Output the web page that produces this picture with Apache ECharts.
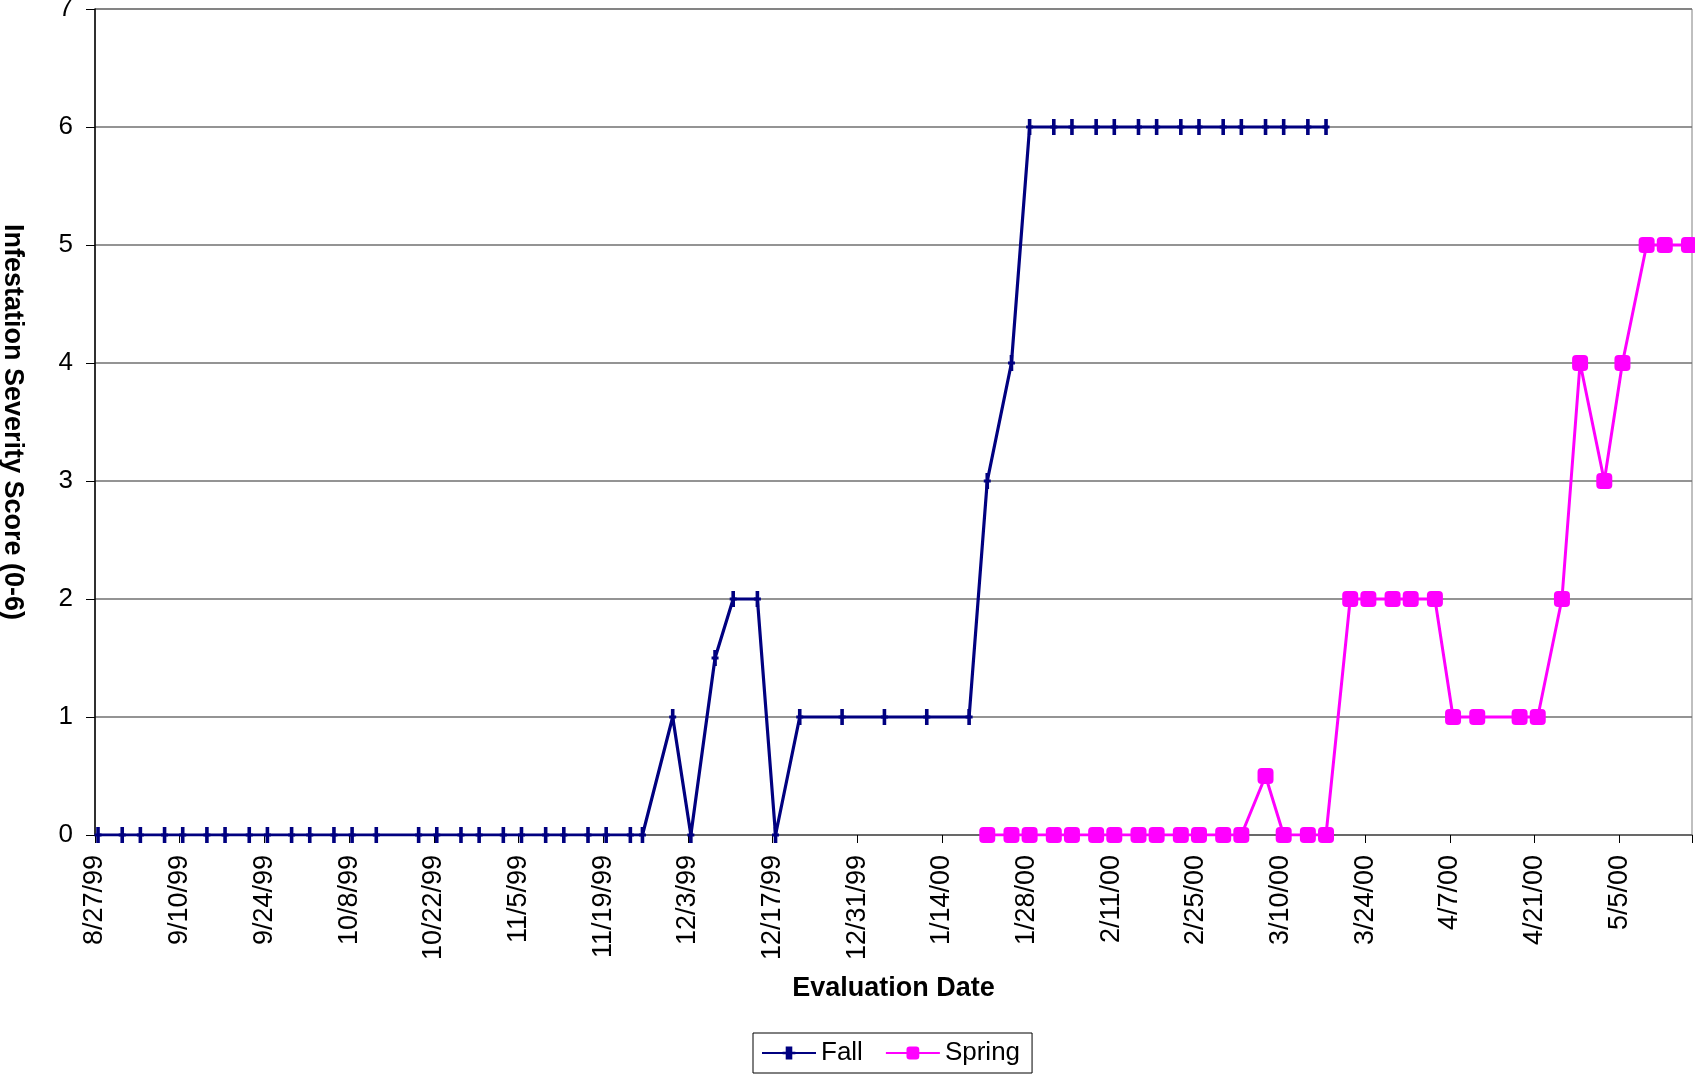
<!DOCTYPE html>
<html>
<head>
<meta charset="utf-8">
<script src="https://cdn.jsdelivr.net/npm/echarts@6/dist/echarts.min.js"></script>
<style>
html,body{margin:0;padding:0;background:#fff;}
#chart{width:1695px;height:1076px;}
</style>
</head>
<body>
<div id="chart"></div>
<script>
// ---- data ----
const fallDates = ["8/27/99","8/31/99","9/3/99","9/7/99","9/10/99","9/14/99","9/17/99","9/21/99","9/24/99","9/28/99",
  "10/1/99","10/5/99","10/8/99","10/12/99","10/19/99","10/22/99","10/26/99","10/29/99","11/2/99","11/5/99",
  "11/9/99","11/12/99","11/16/99","11/19/99","11/23/99","11/25/99","11/30/99","12/3/99","12/7/99","12/10/99",
  "12/14/99","12/17/99","12/21/99","12/28/99","1/4/00","1/11/00","1/18/00","1/21/00","1/25/00","1/28/00",
  "2/1/00","2/4/00","2/8/00","2/11/00","2/15/00","2/18/00","2/22/00","2/25/00","2/29/00","3/3/00",
  "3/7/00","3/10/00","3/14/00","3/17/00"];
const fallValues = [0,0,0,0,0,0,0,0,0,0,
  0,0,0,0,0,0,0,0,0,0,
  0,0,0,0,0,0,1,0,1.5,2,
  2,0,1,1,1,1,1,3,4,6,
  6,6,6,6,6,6,6,6,6,6,
  6,6,6,6];
const springDates = ["1/21/00","1/25/00","1/28/00","2/1/00","2/4/00","2/8/00","2/11/00","2/15/00","2/18/00","2/22/00",
  "2/25/00","2/29/00","3/3/00","3/7/00","3/10/00","3/14/00","3/17/00","3/21/00","3/24/00","3/28/00",
  "3/31/00","4/4/00","4/7/00","4/11/00","4/18/00","4/21/00","4/25/00","4/28/00","5/2/00","5/5/00",
  "5/9/00","5/12/00","5/16/00"];
const springValues = [0,0,0,0,0,0,0,0,0,0,
  0,0,0,0.5,0,0,0,2,2,2,
  2,2,1,1,1,1,2,4,3,4,
  5,5,5];
const axisStartDate = "8/27/99";
const axisEndDate = "5/17/00";
const tickDays = 14;
const yTicks = [0,1,2,3,4,5,6,7];

// ---- helpers ----
const DAY = 86400000;
function parseDate(s){
  const p = s.split('/').map(Number);
  const y = p[2] < 50 ? 2000 + p[2] : 1900 + p[2];
  return Date.UTC(y, p[0]-1, p[1]);
}
const t0 = parseDate(axisStartDate);
function dayNum(s){ return Math.round((parseDate(s) - t0) / DAY); }
function fmt(d){
  const dt = new Date(t0 + d * DAY);
  const yy = String(dt.getUTCFullYear() % 100).padStart(2,'0');
  return (dt.getUTCMonth()+1) + '/' + dt.getUTCDate() + '/' + yy;
}
// Excel date axis (between tick marks) centres each day's point in its day slot
const fallData = fallDates.map((d,i)=>[dayNum(d)+0.5, fallValues[i]]);
const springData = springDates.map((d,i)=>[dayNum(d)+0.5, springValues[i]]);

const plusPath = 'path://M-1.8,-8 L1.8,-8 L1.8,-1.5 L3.5,-1.5 L3.5,1.5 L1.8,1.5 L1.8,8 L-1.8,8 L-1.8,1.5 L-3.5,1.5 L-3.5,-1.5 L-1.8,-1.5 Z';
const FONT = '"Liberation Sans", Arial, sans-serif';

const chart = echarts.init(document.getElementById('chart'), null, {renderer:'canvas'});
chart.setOption({
  animation:false,
  backgroundColor:'#fff',
  textStyle:{fontFamily:FONT},
  grid:{left:95, right:3, top:9, bottom:241, outerBoundsMode:'none', containLabel:false,
        show:true, borderColor:'#808080', borderWidth:1, backgroundColor:'transparent'},
  legend:{
    data:['Fall','Spring'],
    left:753, top:1033,
    orient:'horizontal',
    borderColor:'#000', borderWidth:1,
    padding:[7,12,7,8],
    itemGap:22, itemWidth:54, itemHeight:16,
    textStyle:{fontSize:26, color:'#000', fontFamily:FONT}
  },
  xAxis:{
    type:'value', min:0, max:dayNum(axisEndDate), interval:tickDays,
    name:'Evaluation Date', nameLocation:'middle', nameGap:140,
    nameTextStyle:{fontSize:27, fontWeight:'bold', color:'#000', fontFamily:FONT},
    axisLine:{show:true, onZero:false, lineStyle:{color:'#606060', width:1.5}},
    axisTick:{show:true, length:8, lineStyle:{color:'#000', width:1}},
    splitLine:{show:false},
    axisLabel:{
      rotate:90, margin:20, fontSize:27, color:'#000', fontFamily:FONT,
      formatter:(v)=> (v % tickDays === 0 ? fmt(v) : '')
    }
  },
  yAxis:{
    type:'value', min:yTicks[0], max:yTicks[yTicks.length-1], interval:1,
    name:'Infestation Severity Score (0-6)', nameLocation:'middle', nameGap:69, nameRotate:-90,
    nameTextStyle:{fontSize:27, fontWeight:'bold', color:'#000', fontFamily:FONT},
    axisLine:{show:true, lineStyle:{color:'#000', width:1.5}},
    axisTick:{show:true, length:9, lineStyle:{color:'#000', width:1}},
    splitLine:{show:true, lineStyle:{color:'#707070', width:1.5}},
    axisLabel:{margin:22, fontSize:26, color:'#000', fontFamily:FONT}
  },
  series:[
    {
      name:'Fall', type:'line', data:fallData,
      symbol:plusPath, symbolSize:[7,16], showAllSymbol:true,
      lineStyle:{color:'#000080', width:3.2},
      itemStyle:{color:'#000080'},
      clip:true, z:3
    },
    {
      name:'Spring', type:'line', data:springData,
      symbol:'roundRect', symbolSize:16, showAllSymbol:true,
      lineStyle:{color:'#FF00FF', width:3},
      itemStyle:{color:'#FF00FF', borderRadius:2},
      clip:true, z:4
    }
  ]
});
</script>
</body>
</html>
